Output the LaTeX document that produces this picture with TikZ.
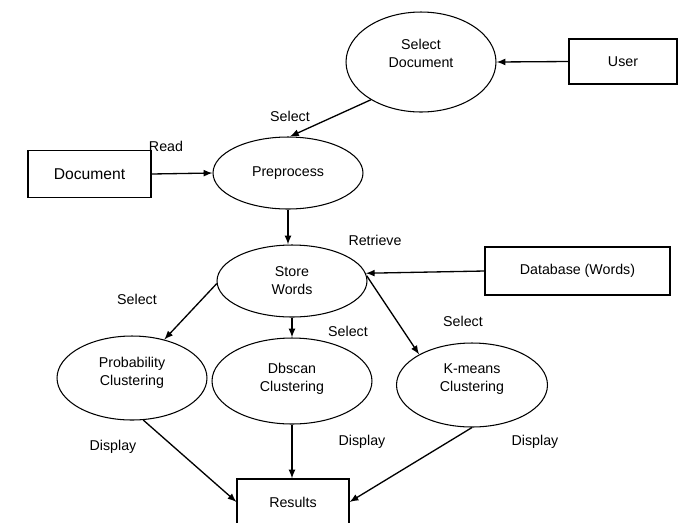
\documentclass[tikz,border=0pt]{standalone}
\usepackage{fontspec}
\setmainfont{Liberation Sans}
\usepackage{tikz}
\usetikzlibrary{arrows, shapes, shapes.geometric}
\tikzset{>=latex}
\tikzset{proc/.style={draw, ellipse, line width=0.6pt, inner sep=0pt, align=center},
         ent/.style={draw, rectangle, line width=0.6pt, inner sep=0pt, align=center},
         lbl/.style={inner sep=0pt},
         flow/.style={->, >=latex, line width=0.75pt}}

\begin{document}
\begin{tikzpicture}[x=0.02cm, y=-0.02cm, font=\fontsize{8.1}{10.2}\selectfont]
\useasboundingbox (0,0) rectangle (690,522);
\clip (0,0) rectangle (690,522);
% processes
\node[proc, minimum width=3cm, minimum height=2cm, text depth=0.34cm] (seldoc) at (421,62) {Select\\Document};
\node[proc, minimum width=3cm, minimum height=1.44cm] (prep) at (288,173) {Preprocess};
\node[proc, minimum width=3cm, minimum height=1.44cm] (store) at (292,281) {Store\\Words};
\node[proc, minimum width=3cm, minimum height=1.68cm, text depth=0.26cm] (prob) at (132,378) {Probability\\Clustering};
\node[proc, minimum width=3.2cm, minimum height=1.72cm, text depth=0.14cm] (dbs) at (292,381) {Dbscan\\Clustering};
\node[proc, minimum width=3.02cm, minimum height=1.68cm, text depth=0.3cm] (km) at (472,385) {K-means\\Clustering};
% entities
\node[ent, minimum width=2.16cm, minimum height=0.9cm] (user) at (623,61.5) {User};
\node[ent, minimum width=2.46cm, minimum height=0.94cm, font=\fontsize{8.9}{10.2}\selectfont] (doc) at (89.5,174) {Document};
\node[ent, minimum width=3.7cm, minimum height=0.96cm] (db) at (577.5,271) {Database (Words)};
\node[ent, minimum width=2.24cm, minimum height=0.92cm] (res) at (293,502) {Results};
% labels
\node[lbl] (lsel1) at (290,116) {Select};
\node[lbl] (lread) at (166,146) {Read};
\node[lbl] (lret) at (375,240) {Retrieve};
\node[lbl] (lsel2) at (137,299) {Select};
\node[lbl] (lsel3) at (348,331) {Select};
\node[lbl] (lsel4) at (463,321) {Select};
\node[lbl] (ldis1) at (113,447) {Display};
\node[lbl] (ldis2) at (362,442) {Display};
\node[lbl] (ldis3) at (535,442) {Display};
% flows
\draw[flow] (user.west) -- (seldoc.east);
\draw[flow] (seldoc.217) -- (prep.87);
\draw[flow] (doc.east) -- (prep.west);
\draw[flow] (prep.south) -- (prep.south |- store.north);
\draw[flow] (db.west) -- (store.6);
\draw[flow] (store.182) -- (prob.50);
\draw[flow] (store.south) -- (dbs.north);
\draw[flow] (store.4) -- (km.150);
\draw[flow] (prob.285) -- (res.west);
\draw[flow] (dbs.south) -- (dbs.south |- res.north);
\draw[flow] (km.south) -- (res.east);
\end{tikzpicture}
\end{document}
